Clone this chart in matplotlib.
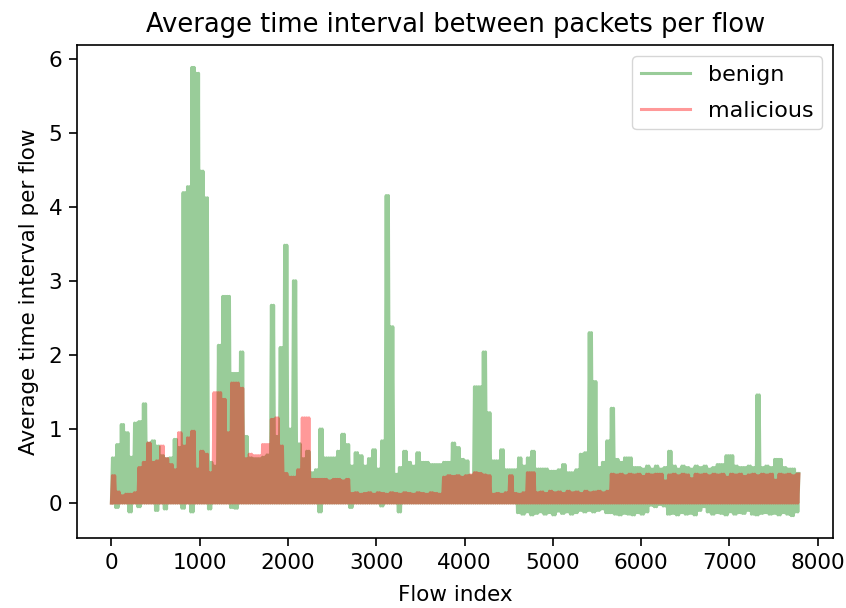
import numpy as np
import matplotlib
matplotlib.use("Agg")
import matplotlib.pyplot as plt

# flows in bins of 50 (0..7800)
bin_w = 50

# upper edge of each series per bin
benign_high = [
    0.61, 0.79, 1.06, 0.95, 0.62, 1.08, 1.10, 1.34, 0.81, 0.84, 0.77, 0.64,
    0.60, 0.61, 0.86, 0.75, 4.19, 4.27, 5.88, 5.80, 4.48, 4.12, 0.55, 0.50,
    2.13, 2.79, 2.79, 1.75, 1.75, 2.04, 0.90, 0.61, 0.60, 0.60, 0.62, 0.65,
    2.67, 0.90, 2.10, 3.48, 1.00, 3.00, 0.80, 0.60, 0.70, 0.41, 0.45, 1.00,
    0.61, 0.61, 0.61, 0.70, 0.93, 0.79, 0.50, 0.68, 0.64, 0.50, 0.60, 0.72,
    0.46, 0.84, 4.15, 2.38, 0.39, 0.48, 0.70, 0.55, 0.50, 0.68, 0.55, 0.55,
    0.52, 0.52, 0.52, 0.55, 0.55, 0.81, 0.75, 0.59, 0.57, 0.37, 1.57, 1.57,
    2.04, 1.22, 0.57, 0.57, 0.72, 0.45, 0.45, 0.45, 0.61, 0.50, 0.61, 0.70,
    0.46, 0.46, 0.46, 0.43, 0.43, 0.45, 0.52, 0.41, 0.41, 0.45, 0.66, 0.68,
    2.30, 1.64, 0.48, 0.55, 0.84, 1.28, 0.59, 0.55, 0.61, 0.61, 0.48, 0.48,
    0.46, 0.50, 0.46, 0.50, 0.46, 0.48, 0.70, 0.50, 0.46, 0.50, 0.48, 0.46,
    0.50, 0.48, 0.50, 0.46, 0.48, 0.52, 0.52, 0.64, 0.64, 0.50, 0.48, 0.48,
    0.50, 0.48, 1.46, 0.48, 0.50, 0.48, 0.59, 0.59, 0.48, 0.46, 0.46, 0.40,
]
malicious_high = [
    0.37, 0.15, 0.10, 0.12, 0.12, 0.14, 0.48, 0.55, 0.81, 0.55, 0.57, 0.77,
    0.60, 0.52, 0.45, 0.95, 0.77, 0.88, 0.97, 0.46, 0.70, 0.66, 0.41, 1.49,
    1.49, 1.40, 0.95, 1.62, 1.62, 1.55, 0.60, 0.66, 0.64, 0.64, 0.79, 0.79,
    1.13, 1.15, 0.77, 0.40, 0.35, 0.35, 0.45, 1.15, 1.15, 0.32, 0.32, 0.32,
    0.32, 0.30, 0.32, 0.32, 0.30, 0.32, 0.13, 0.14, 0.12, 0.13, 0.14, 0.12,
    0.14, 0.13, 0.12, 0.14, 0.13, 0.12, 0.14, 0.13, 0.12, 0.14, 0.13, 0.12,
    0.14, 0.13, 0.12, 0.35, 0.37, 0.36, 0.37, 0.35, 0.37, 0.38, 0.41, 0.40,
    0.38, 0.37, 0.12, 0.13, 0.12, 0.14, 0.37, 0.13, 0.12, 0.14, 0.41, 0.41,
    0.14, 0.15, 0.13, 0.16, 0.14, 0.15, 0.13, 0.16, 0.14, 0.15, 0.13, 0.16,
    0.14, 0.15, 0.16, 0.14, 0.16, 0.39, 0.38, 0.39, 0.37, 0.39, 0.38, 0.39,
    0.36, 0.39, 0.38, 0.39, 0.39, 0.30, 0.38, 0.39, 0.37, 0.39, 0.38, 0.33,
    0.39, 0.38, 0.39, 0.37, 0.39, 0.38, 0.39, 0.35, 0.39, 0.38, 0.39, 0.36,
    0.38, 0.39, 0.37, 0.39, 0.38, 0.39, 0.31, 0.39, 0.38, 0.39, 0.37, 0.39,
]

# lower edge of each series per bin
benign_low = [
    0.00, -0.06, 0.00, 0.00, -0.12, 0.00, -0.05, 0.00, 0.00, 0.00, -0.10, 0.00,
    -0.08, 0.00, 0.00, 0.00, -0.07, 0.00, -0.12, 0.00, 0.00, 0.00, -0.08, 0.00,
    0.00, 0.00, 0.00, -0.06, -0.07, 0.00, 0.00, 0.00, 0.00, 0.00, 0.00, 0.00,
    0.00, 0.00, 0.00, 0.00, 0.00, 0.00, 0.00, 0.00, 0.00, 0.00, 0.00, -0.12,
    0.00, 0.00, 0.00, 0.00, 0.00, 0.00, -0.06, 0.00, 0.00, 0.00, 0.00, 0.00,
    0.00, -0.04, 0.00, 0.00, 0.00, -0.12, 0.00, 0.00, 0.00, 0.00, 0.00, 0.00,
    0.00, 0.00, 0.00, 0.00, 0.00, 0.00, 0.00, 0.00, 0.00, 0.00, 0.00, 0.00,
    0.00, 0.00, 0.00, 0.00, 0.00, 0.00, 0.00, 0.00, -0.13, -0.15, -0.12, -0.16,
    -0.14, -0.12, -0.15, -0.13, -0.16, -0.11, -0.14, -0.12, -0.15, -0.13, -0.10, -0.12,
    -0.10, -0.12, -0.10, -0.08, -0.13, -0.13, -0.15, -0.16, -0.14, -0.15, -0.16, -0.13,
    -0.15, -0.12, -0.03, -0.05, -0.02, -0.04, -0.15, -0.14, -0.16, -0.13, -0.15, -0.14,
    -0.16, -0.10, -0.05, -0.12, -0.15, -0.13, -0.14, -0.16, -0.12, -0.15, -0.13, -0.14,
    -0.10, -0.15, -0.16, -0.14, -0.13, -0.15, -0.14, -0.16, -0.13, -0.15, -0.17, -0.12,
]
malicious_low = [0.0] * len(malicious_high)

assert len(benign_high) == len(benign_low) == len(malicious_high)


def trace(low, high, steps=4):
    # the raw series swings between its low and high inside every bin
    xs, ys = [], []
    for i in range(len(high)):
        for j in range(steps):
            xs.append(i * bin_w + j * bin_w / steps)
            ys.append(low[i] if j % 2 == 0 else high[i])
    return np.array(xs), np.array(ys)


plt.rcParams['font.size'] = 15.5
plt.rcParams['xtick.major.size'] = 5.5
plt.rcParams['ytick.major.size'] = 5.5
plt.rcParams['xtick.major.width'] = 1.2
plt.rcParams['ytick.major.width'] = 1.2
plt.rcParams['xtick.major.pad'] = 5
plt.rcParams['ytick.major.pad'] = 5
plt.rcParams['axes.linewidth'] = 1.2

fig = plt.figure(figsize=(8.46, 6.08), dpi=100)
fig.subplots_adjust(left=0.091, right=0.985, bottom=0.115, top=0.926)
ax = fig.add_subplot(111)

bx, by = trace(benign_low, benign_high)
mx, my = trace(malicious_low, malicious_high)
ax.plot(bx, by, color='g', alpha=0.4, lw=2.2, label='benign')
ax.plot(mx, my, color='r', alpha=0.4, lw=2.2, label='malicious')

ax.set_title('Average time interval between packets per flow', fontsize=18.5, pad=9)
ax.set_xlabel('Flow index', labelpad=9)
ax.set_ylabel('Average time interval per flow', labelpad=7)
ax.legend(loc='upper right', fontsize=16, labelspacing=0.7, handlelength=2.2)

fig.savefig('out.png', dpi=100)
